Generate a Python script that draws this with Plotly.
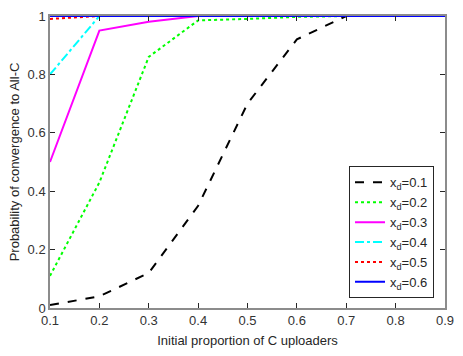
import plotly.graph_objects as go

x_vals = [0.1, 0.2, 0.3, 0.4, 0.5, 0.6, 0.7, 0.8, 0.9]
p_xd01 = [0.01, 0.04, 0.12, 0.35, 0.70, 0.92, 1.0, 1.0, 1.0]
p_xd02 = [0.11, 0.43, 0.86, 0.985, 0.99, 0.997, 1.0, 1.0, 1.0]
p_xd03 = [0.50, 0.95, 0.98, 1.0, 1.0, 1.0, 1.0, 1.0, 1.0]
p_xd04 = [0.80, 1.0, 1.0, 1.0, 1.0, 1.0, 1.0, 1.0, 1.0]
p_xd05 = [0.99, 1.0, 1.0, 1.0, 1.0, 1.0, 1.0, 1.0, 1.0]
p_xd06 = [1.0, 1.0, 1.0, 1.0, 1.0, 1.0, 1.0, 1.0, 1.0]
labels = ["x<sub>d</sub>=0.1", "x<sub>d</sub>=0.2", "x<sub>d</sub>=0.3",
          "x<sub>d</sub>=0.4", "x<sub>d</sub>=0.5", "x<sub>d</sub>=0.6"]

series = [p_xd01, p_xd02, p_xd03, p_xd04, p_xd05, p_xd06]
colors = ["#000000", "#00ff00", "#ff00ff", "#00ffff", "#ff0000", "#0000ff"]
dashes = ["dash", "dot", "solid", "dashdot", "dot", "solid"]

fig = go.Figure()
for ys, lab, c, d in zip(series, labels, colors, dashes):
    fig.add_trace(go.Scatter(x=x_vals, y=ys, name=lab, mode="lines",
                             line=dict(color=c, dash=d, width=2)))

axis_common = dict(showline=True, linecolor="#8c8c8c", linewidth=1.5, mirror="ticks",
                   ticks="inside", ticklen=5, tickcolor="#262626", showgrid=False,
                   zeroline=False, tickfont=dict(size=13, color="#333333"))

fig.update_layout(
    width=463, height=356,
    margin=dict(l=50, r=9, t=9, b=48),
    paper_bgcolor="white", plot_bgcolor="white",
    font=dict(family="Liberation Sans, Arial, sans-serif", size=13, color="#262626"),
    xaxis=dict(range=[0.1, 0.9], tickvals=[0.1, 0.2, 0.3, 0.4, 0.5, 0.6, 0.7, 0.8, 0.9],
               ticktext=["0.1", "0.2", "0.3", "0.4", "0.5", "0.6", "0.7", "0.8", "0.9"],
               title=dict(text="Initial proportion of C uploaders", font=dict(size=13), standoff=9),
               **axis_common),
    yaxis=dict(range=[0, 1], tickvals=[0, 0.2, 0.4, 0.6, 0.8, 1],
               ticktext=["0", "0.2", "0.4", "0.6", "0.8", "1"],
               title=dict(text="Probability of convergence to All-C", font=dict(size=13), standoff=5),
               **axis_common),
    legend=dict(x=0.757, y=0.485, xanchor="left", yanchor="top",
                bordercolor="#262626", borderwidth=1, bgcolor="white",
                font=dict(size=13, color="#262626"), tracegroupgap=0,
                itemwidth=30),
    showlegend=True,
)

fig.write_html("out.html")
